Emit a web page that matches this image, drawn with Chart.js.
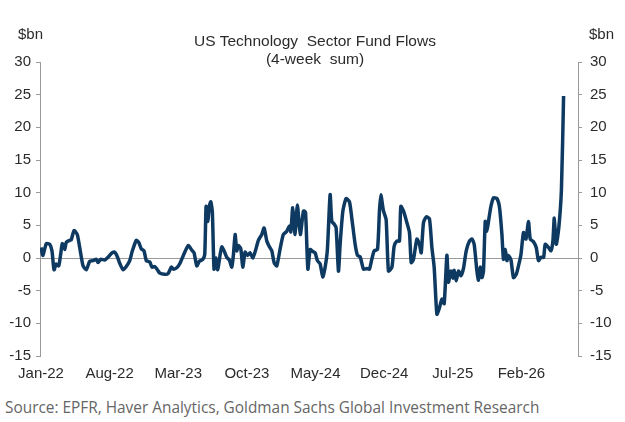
<!DOCTYPE html>
<html>
<head>
<meta charset="utf-8">
<script src="https://cdn.jsdelivr.net/npm/chart.js@4.4.1/dist/chart.umd.min.js"></script>
<style>
  body { margin: 0; background: #fff; }
  #wrap { position: relative; width: 625px; height: 422px; overflow: hidden; }
  #chartBox { position: absolute; left: 0; top: 0; width: 625px; height: 395px; }
  .lbl { position: absolute; font-family: "Liberation Sans", Arial, sans-serif; color: #2b2b2b; font-size: 15px; }
  #title { left: 0; width: 630px; top: 32px; text-align: center; line-height: 18px; font-size: 15.5px; }
  #unitL { left: 18px; top: 25px; }
  #unitR { left: 589px; top: 25px; }
  #source { position: absolute; left: 5px; top: 397px; font-family: "Open Sans", sans-serif; font-size: 15.4px; color: #666; white-space: nowrap; }
</style>
</head>
<body>
<div id="wrap">
  <div id="chartBox"><canvas id="chart"></canvas></div>
  <div id="title" class="lbl">US Technology&nbsp; Sector Fund Flows<br>(4-week&nbsp; sum)</div>
  <div id="unitL" class="lbl">$bn</div>
  <div id="unitR" class="lbl">$bn</div>
  <div id="source">Source: EPFR, Haver Analytics, Goldman Sachs Global Investment Research</div>
</div>
<script>
  // months since Jan-22
  const months = [
    0, 0.20, 0.54, 0.89, 1.12, 1.33, 1.56, 1.81, 2.01, 2.17, 2.42, 2.58, 2.93, 3.09, 3.37, 3.70, 3.95,
    4.29, 4.62, 4.97, 5.31, 5.64, 5.82, 6.09, 6.50, 6.84, 7.24, 7.52, 7.79, 8.03, 8.37, 8.70, 9.05,
    9.32, 9.72, 9.97, 10.23, 10.51, 10.74, 11.09, 11.33, 11.60, 11.87, 12.11, 12.62, 12.96, 13.30,
    13.50, 13.85, 14.18, 14.52, 15.03, 15.38, 15.61, 15.89, 16.15, 16.50, 16.70, 16.84, 17.01, 17.17,
    17.32, 17.48, 17.65, 17.86, 18.03, 18.27, 18.44, 18.67, 18.95, 19.21, 19.46, 19.62, 19.80, 19.97,
    20.13, 20.38, 20.58, 20.82, 21.05, 21.33, 21.60, 21.87, 22.17, 22.52, 22.76, 23.03, 23.27, 23.54,
    23.78, 24.05, 24.39, 24.72, 25.07, 25.34, 25.48, 25.68, 25.92, 26.15, 26.45, 26.77, 26.98, 27.22,
    27.45, 27.72, 27.96, 28.19, 28.47, 28.74, 28.98, 29.21, 29.49, 29.66, 29.90, 30.10, 30.34, 30.51,
    30.79, 31.12, 31.46, 31.70, 32.04, 32.28, 32.55, 32.89, 33.23, 33.50, 33.74, 33.98, 34.32, 34.52,
    34.66, 34.93, 35.20, 35.44, 35.79, 36.02, 36.30, 36.56, 36.70, 36.97, 37.32, 37.58, 37.76, 37.99,
    38.34, 38.60, 38.78, 39.01, 39.29, 39.62, 39.87, 40.10, 40.38, 40.64, 40.89, 41.12, 41.40, 41.56,
    41.81, 42.01, 42.14, 42.35, 42.58, 42.83, 43.09, 43.37, 43.70, 43.95, 44.18, 44.46, 44.62, 44.80,
    44.97, 45.13, 45.31, 45.48, 45.64, 45.89, 46.15, 46.50, 46.77, 47.01, 47.17, 47.35, 47.52, 47.68,
    47.93, 48.19, 48.47, 48.70, 48.95, 49.21, 49.46, 49.72, 49.90, 50.23, 50.51, 50.74, 50.99, 51.26,
    51.43, 51.77, 52.01, 52.21, 52.35, 52.55, 52.81, 53.08, 53.30
  ];

  // 4-week sum of flows, $bn
  const flows = [
    1.6, 0.4, 2.2, 2.1, 1.1, -1.8, -0.9, -1.2, 0.6, 2.2, 1.3, 2.4, 2.7, 2.8, 4.2, 3.6, 1.6,
    -1.2, -1.8, -0.5, -0.4, -0.2, -0.7, -0.2, -0.3, 0.1, 0.8, 0.9, 0.2, -0.8, -1.8, -1.3, -0.4,
    1.1, 2.7, 2.4, 1.4, 1.1, -0.4, -0.6, -1.4, -1.3, -1.8, -2.3, -2.5, -2.4, -1.4,
    -1.7, -1.5, -0.8, 0.4, 1.9, 1.2, 0.8, -1.2, -0.5, -0.2, 0.5, 7.9, 5.6, 7.9,
    8.6, 7.0, -1.7, 0.0, -1.8, 0.5, 1.7, 1.1, 0.1, -0.3, -1.4, 0.4, 3.6, 1.1,
    1.9, 1.4, -1.4, 0.9, 0.4, 0.8, 0.0, 1.1, 2.7, 3.6, 4.6, 2.6, 1.8, 1.1,
    -0.7, -1.2, 1.4, 3.6, 4.1, 4.9, 4.0, 7.7, 3.6, 8.1, 3.6, 7.2, 7.0, -1.7,
    1.3, 1.0, 0.8, -0.4, -0.9, -2.9, -1.4, 1.3, 9.7, 5.6, 5.2, 4.6, -2.0, 2.1,
    7.2, 9.1, 8.6, 6.1, 2.1, 0.4, 0.2, -1.7, -1.6, -1.7, -0.2, 1.1, 1.3, 7.2,
    9.7, 7.2, 5.9, -2.0, -1.4, 1.8, 2.6, 2.6, 7.9, 7.2, 5.4, 3.9, -0.7, -0.2,
    2.9, 2.1, 0.8, 5.4, 6.3, 6.0, 1.6, -1.4, -8.6, -7.6, -6.3, -7.0, 0.4, -3.7,
    -2.0, -3.1, -1.9, -3.5, -2.0, -2.7, -1.6, 1.1, 2.6, 2.9, 2.1, -2.0, -3.4, -1.4,
    -3.0, -2.0, 5.6, 4.1, 5.6, 7.9, 9.2, 9.1, 7.7, 3.6, -0.2, 1.3, -0.4, 0.4,
    -0.3, -3.0, -2.5, -1.2, 0.5, 3.9, 2.9, 5.6, 2.9, 2.5, 1.6, -0.4, 0.1, 0.1,
    2.1, 1.6, 1.1, 2.6, 6.1, 2.1, 4.6, 10.5, 24.8
  ];

  const tickMonths = [0, 7, 14, 21, 28, 35, 42, 49];
  const tickLabels = ['Jan-22', 'Aug-22', 'Mar-23', 'Oct-23', 'May-24', 'Dec-24', 'Jul-25', 'Feb-26'];

  const LINE_COLOR = '#0e3a62';
  const AXIS_COLOR = '#9a9a9a';
  const TEXT_COLOR = '#2b2b2b';
  const tickFont = { family: 'Liberation Sans', size: 15 };

  function yAxis(position, width, pad) {
    return {
      type: 'linear',
      position: position,
      min: -15,
      max: 30,
      afterFit: function(scale) { scale.width = width; },
      ticks: { stepSize: 5, color: TEXT_COLOR, font: tickFont, padding: pad },
      border: { display: true, color: AXIS_COLOR, width: 1 },
      grid: {
        drawOnChartArea: position === 'left',
        color: function(ctx) {
          return ctx.tick && ctx.tick.value === 0 ? AXIS_COLOR : 'rgba(0,0,0,0)';
        },
        tickColor: AXIS_COLOR,
        tickLength: 4,
        lineWidth: 1
      }
    };
  }

  new Chart(document.getElementById('chart'), {
    type: 'line',
    data: {
      datasets: [{
        data: months.map(function(m, i) { return { x: m, y: flows[i] }; }),
        borderColor: LINE_COLOR,
        borderWidth: 3.5,
        pointRadius: 0,
        tension: 0.2,
        borderJoinStyle: 'round',
        yAxisID: 'y'
      }]
    },
    options: {
      responsive: true,
      maintainAspectRatio: false,
      animation: false,
      layout: { padding: { top: 62, left: 0, right: 0, bottom: 0 } },
      plugins: { legend: { display: false }, tooltip: { enabled: false } },
      scales: {
        x: {
          type: 'linear',
          min: -0.1,
          max: 54.77,
          afterFit: function(scale) { scale.height = 39; },
          afterBuildTicks: function(scale) {
            scale.ticks = tickMonths.map(function(v) { return { value: v }; });
          },
          ticks: {
            autoSkip: false,
            maxRotation: 0,
            color: TEXT_COLOR,
            font: tickFont,
            padding: 9,
            callback: function(value) {
              const i = tickMonths.indexOf(value);
              return i >= 0 ? tickLabels[i] : '';
            }
          },
          border: { display: false },
          grid: { display: false, drawTicks: false }
        },
        y: yAxis('left', 40, 5),
        y2: yAxis('right', 47, 8)
      }
    }
  });
</script>
</body>
</html>
